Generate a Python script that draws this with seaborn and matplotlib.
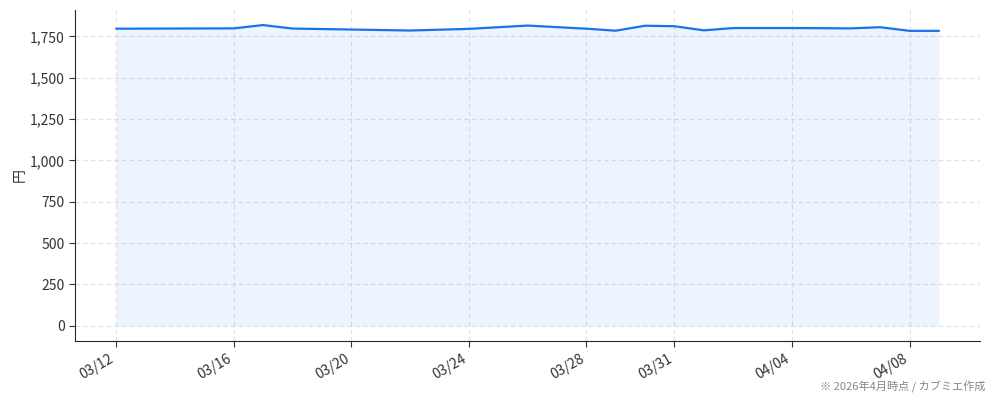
import matplotlib
matplotlib.use("Agg")
import matplotlib.pyplot as plt
import matplotlib.dates as mdates
import matplotlib.ticker as mticker
import seaborn as sns
import pandas as pd

dates = ["2026-03-12", "2026-03-16", "2026-03-17", "2026-03-18", "2026-03-20",
         "2026-03-22", "2026-03-24", "2026-03-26", "2026-03-28", "2026-03-29",
         "2026-03-30", "2026-03-31", "2026-04-01", "2026-04-02", "2026-04-04",
         "2026-04-06", "2026-04-07", "2026-04-08", "2026-04-09"]
prices = [1796, 1798, 1818, 1797, 1791, 1785, 1795, 1815, 1796, 1784,
          1814, 1811, 1786, 1800, 1800, 1798, 1805, 1783, 1783]
tick_dates = ["2026-03-12", "2026-03-16", "2026-03-20", "2026-03-24",
              "2026-03-28", "2026-03-31", "2026-04-04", "2026-04-08"]
y_label = "円"
footnote = "※ 2026年4月時点 / カブミエ作成"

sns.set_style("ticks")
plt.rcParams['font.family'] = ['Noto Sans CJK JP', 'DejaVu Sans']

df = pd.DataFrame({"date": pd.to_datetime(dates), "price": prices})

fig, ax = plt.subplots(figsize=(9.94, 4.01), dpi=100)
fig.subplots_adjust(left=0.0755, right=0.986, top=0.975, bottom=0.15)

line_color = "#1a73e8"
ax.fill_between(df["date"], df["price"], 0, color=line_color, alpha=0.08, linewidth=0)
sns.lineplot(data=df, x="date", y="price", ax=ax, color=line_color, linewidth=1.6)

ax.set_xticks(pd.to_datetime(tick_dates))
ax.xaxis.set_major_formatter(mdates.DateFormatter("%m/%d"))
ax.yaxis.set_major_locator(mticker.MultipleLocator(250))
ax.yaxis.set_major_formatter(mticker.FuncFormatter(lambda v, p: f"{int(v):,}"))
ax.margins(x=0.05, y=0.05)

ax.grid(True, linestyle=(0, (4, 3)), color="#dde1e8", linewidth=0.8)
ax.set_axisbelow(True)
sns.despine(ax=ax)
ax.set_xlabel("")
ax.set_ylabel(y_label, fontsize=10, color="#333333", labelpad=2)
ax.tick_params(axis="both", labelsize=10, colors="#333333", length=4)
for lbl in ax.get_xticklabels():
    lbl.set_rotation(30)
    lbl.set_ha("right")

fig.text(0.991, 0.035, footnote, ha="right", va="center", fontsize=8, color="#888888")

fig.savefig("out.png", dpi=100)
